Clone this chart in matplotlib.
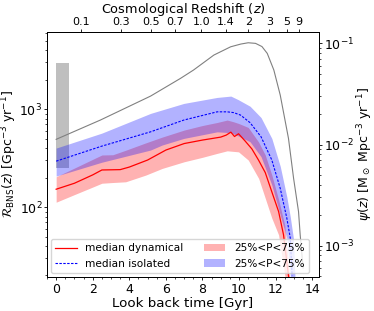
import numpy as np
import matplotlib
matplotlib.use('Agg')
import matplotlib.pyplot as plt
from matplotlib.ticker import AutoMinorLocator

# look back time [Gyr] and merger rates [Gpc^-3 yr^-1]
t_dyn = [0, 1, 2, 2.5, 3.5, 4, 5, 6, 7, 8, 8.5, 9, 9.3, 9.55, 9.75, 9.97,
         10.34, 10.7, 11.07, 11.43, 11.79, 12.16, 12.43, 12.7, 12.8]
med_dyn = [152, 175, 213, 239, 241, 256, 302, 382, 445, 483, 500, 518, 543, 582,
           525, 560, 470, 392, 300, 225, 143, 90, 52, 20, 14]

t_dyn_band = [0, 1, 2, 2.5, 3.1, 3.8, 4.9, 5.8, 7, 8, 8.8, 9.35, 9.7, 9.97,
              10.5, 11.07, 11.43, 11.79, 12.16, 12.5, 12.8]
dyn_lo = [112, 134, 160, 175, 178, 181, 212, 248, 290, 322, 353, 375, 370, 366,
          302, 196, 123, 77, 52, 20, 10]
dyn_hi = [204, 250, 307, 340, 342, 380, 452, 518, 611, 680, 730, 773, 742, 714,
          650, 460, 340, 212, 119, 65, 16]

t_iso = [0, 2.5, 5.16, 6.98, 8.8, 9.35, 9.7, 10.08, 10.6, 11.2, 11.79, 12.25,
         12.61, 12.8, 12.9]
med_iso = [294, 419, 586, 773, 938, 938, 921, 869, 727, 522, 302, 155, 77, 48, 20]

t_iso_band = [0, 2.5, 5.16, 5.8, 6.98, 8.8, 9.55, 9.95, 10.6, 11.2, 11.79,
              12.25, 12.61, 12.8, 12.97, 13.06]
iso_lo = [207, 287, 382, 430, 502, 586, 575, 533, 464, 327, 168, 83, 48, 20, 8, 5]
iso_hi = [400, 569, 904, 982, 1143, 1316, 1358, 1250, 1070, 820, 502, 261, 127,
          79, 48, 18]

# star formation rate [Msun Mpc^-3 yr^-1]
t_sfr = [0, 2.42, 5.16, 6.8, 7.51, 8.62, 9.54, 10.1, 10.5, 10.9, 11.25, 11.54,
         11.9, 12.25, 12.7, 12.98, 13.25, 13.34, 13.5]
sfr = [0.01125, 0.01746, 0.0301, 0.0451, 0.0545, 0.0766, 0.0925, 0.0985, 0.1014,
       0.1000, 0.0930, 0.0796, 0.0545, 0.0308, 0.0115, 0.00463, 0.00217, 0.00128,
       0.0006]

# observed local BNS rate
gw_t = [0, 0.7]
gw_lo = 250
gw_hi = 2950

z_ticks = [0.1, 0.3, 0.5, 0.7, 1.0, 1.4, 2, 3, 5, 9]
z_labels = ['0.1', '0.3', '0.5', '0.7', '1.0', '1.4', '2', '3', '5', '9']


def lookback_time(z, H0=67.7, Om=0.31):
    zz = np.linspace(0, z, 4000)
    E = np.sqrt(Om * (1 + zz) ** 3 + 1 - Om)
    return 977.8 / H0 * np.trapezoid(1.0 / ((1 + zz) * E), zz)


plt.rcParams['font.size'] = 8.5
for a in ['xtick', 'ytick']:
    plt.rcParams[a + '.major.size'] = 2.2
    plt.rcParams[a + '.minor.size'] = 1.3
    plt.rcParams[a + '.major.pad'] = 1.8
    plt.rcParams[a + '.major.width'] = 0.6
    plt.rcParams[a + '.minor.width'] = 0.5
plt.rcParams['axes.linewidth'] = 0.7

fig = plt.figure(figsize=(3.74, 3.11), dpi=100)
ax = fig.add_axes([0.1257, 0.1093, 0.7273, 0.7894])

ax.fill_between(gw_t, gw_lo, gw_hi, color='grey', alpha=0.5, lw=0)
p_dyn = ax.fill_between(t_dyn_band, dyn_lo, dyn_hi, color='red', alpha=0.3, lw=0,
                        label='25%<P<75%')
p_iso = ax.fill_between(t_iso_band, iso_lo, iso_hi, color='blue', alpha=0.3, lw=0,
                        label='25%<P<75%')
l_dyn, = ax.plot(t_dyn, med_dyn, color='red', lw=0.9, label='median dynamical')
l_iso, = ax.plot(t_iso, med_iso, color='blue', lw=0.8, ls='--', dashes=(2.2, 1.3),
                 label='median isolated')

ax.set_yscale('log')
ax.set_ylim(19.3, 6200)
ax.set_xlim(-0.5, 14.37)
ax.set_xticks(range(0, 15, 2))
ax.xaxis.set_minor_locator(AutoMinorLocator(4))
ax.tick_params(axis='both', which='major', labelsize=9)
ax.tick_params(axis='y', which='major', pad=1.2)
ax.set_xlabel('Look back time [Gyr]', fontsize=9.6, labelpad=1)
ax.set_ylabel(r'$\mathcal{R}_{\rm BNS}(z)$ [Gpc$^{-3}$ yr$^{-1}$]', fontsize=9.0,
              labelpad=0.5)

ax2 = ax.twinx()
ax2.plot(t_sfr, sfr, color='grey', lw=0.8)
ax2.set_yscale('log')
ax2.set_ylim(4.9e-4, 0.131)
ax2.tick_params(axis='y', which='major', labelsize=9, pad=1.5)
ax2.set_ylabel(r'$\psi(z)$ [M$_\odot$ Mpc$^{-3}$ yr$^{-1}$]', fontsize=9.0,
               labelpad=1.0)

top = ax.secondary_xaxis('top')
top.set_xticks([lookback_time(z) for z in z_ticks], labels=z_labels)
top.tick_params(axis='x', labelsize=8.0, pad=0.8)
top.set_xlabel('Cosmological Redshift ($z$)', fontsize=9.3, labelpad=3.2)

leg = ax2.legend([l_dyn, l_iso, p_dyn, p_iso],
                 ['median dynamical', 'median isolated', '25%<P<75%', '25%<P<75%'],
                 loc='lower left', ncol=2, fontsize=7.6, borderaxespad=0.4)
leg.set_zorder(10)

fig.savefig('out.png', dpi=100)
